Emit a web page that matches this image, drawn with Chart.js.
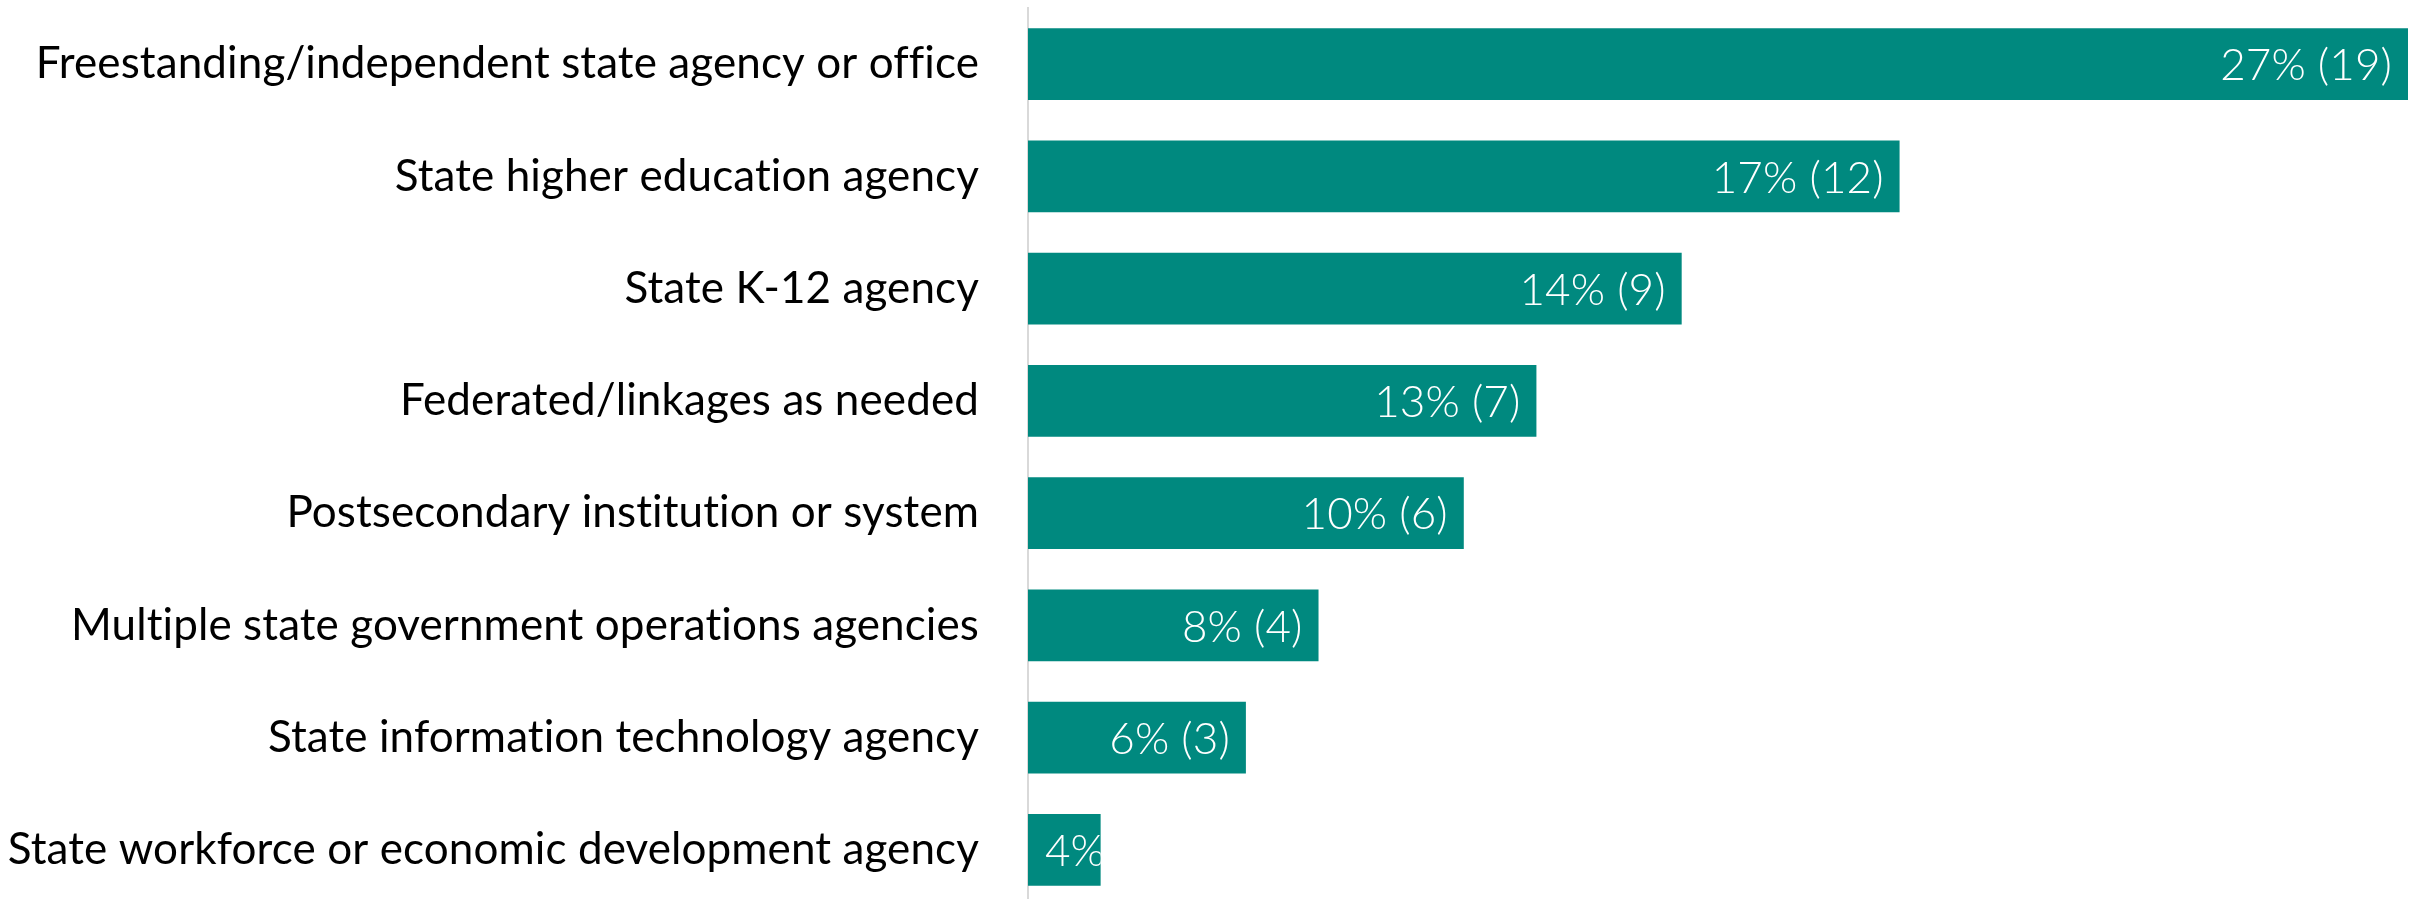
<!DOCTYPE html>
<html>
<head>
<meta charset="utf-8">
<script src="https://cdn.jsdelivr.net/npm/chart.js@4.4.1/dist/chart.umd.min.js"></script>
<style>
    html, body { margin: 0; padding: 0; background: #fff; overflow: hidden; }
    #wrap { width: 2422px; height: 899px; overflow: hidden; }
</style>
</head>
<body>
<div id="wrap"><canvas id="chartAgencias" width="2422" height="906"></canvas></div>
<script>
const categorias = [
    'Freestanding/independent state agency or office',
    'State higher education agency',
    'State K-12 agency',
    'Federated/linkages as needed',
    'Postsecondary institution or system',
    'Multiple state government operations agencies',
    'State information technology agency',
    'State workforce or economic development agency'
];
const contagens = [19, 12, 9, 7, 6, 4, 3, 1];
const rotulos = ['27% (19)', '17% (12)', '14% (9)', '13% (7)', '10% (6)', '8% (4)', '6% (3)', '4%'];

const FONTE = 'Lato, "Open Sans", sans-serif';
const COR_BARRA = '#00897F';

// sem ligaduras (o original não tem "ti" ligado)
const semLigaduras = {
    id: 'semLigaduras',
    beforeDraw(chart) { chart.ctx.letterSpacing = '0.1px'; }
};

// rótulos brancos dentro da ponta de cada barra
const rotulosPlugin = {
    id: 'rotulosBarra',
    afterDatasetsDraw(chart) {
        const ctx = chart.ctx;
        const meta = chart.getDatasetMeta(0);
        ctx.save();
        ctx.font = '300 44px ' + FONTE;
        ctx.fillStyle = '#ffffff';
        ctx.textBaseline = 'middle';
        meta.data.forEach((bar, i) => {
            const txt = rotulos[i];
            const w = ctx.measureText(txt).width;
            const left = bar.base;
            const right = bar.x;
            const top = bar.y - bar.height / 2;
            if (w + 32 <= right - left) {
                ctx.textAlign = 'right';
                ctx.fillText(txt, right - 16, bar.y + 2);
            } else {
                ctx.save();
                ctx.beginPath();
                ctx.rect(left, top, right - left, bar.height);
                ctx.clip();
                ctx.textAlign = 'left';
                ctx.fillText(txt, left + 17, bar.y + 2);
                ctx.restore();
            }
        });
        ctx.restore();
    }
};

new Chart(document.getElementById('chartAgencias').getContext('2d'), {
    type: 'bar',
    data: {
        labels: categorias,
        datasets: [{
            data: contagens,
            backgroundColor: COR_BARRA,
            borderWidth: 0,
            categoryPercentage: 1,
            barPercentage: 0.641
        }]
    },
    options: {
        indexAxis: 'y',
        responsive: false,
        animation: false,
        layout: { padding: { top: 8, right: 14, bottom: 0, left: 0 } },
        plugins: {
            legend: { display: false },
            tooltip: { enabled: false }
        },
        scales: {
            x: {
                display: false,
                min: 0,
                max: 19
            },
            y: {
                grid: { display: false, drawTicks: false },
                border: { display: true, color: '#d9d9d9', width: 2 },
                ticks: {
                    color: '#000000',
                    padding: 49,
                    font: { family: FONTE, size: 44, weight: '400' }
                },
                afterFit(scale) {
                    scale.width = 1028;
                    scale.paddingTop = 0;
                    scale.paddingBottom = 0;
                }
            }
        }
    },
    plugins: [semLigaduras, rotulosPlugin]
});
</script>
</body>
</html>
